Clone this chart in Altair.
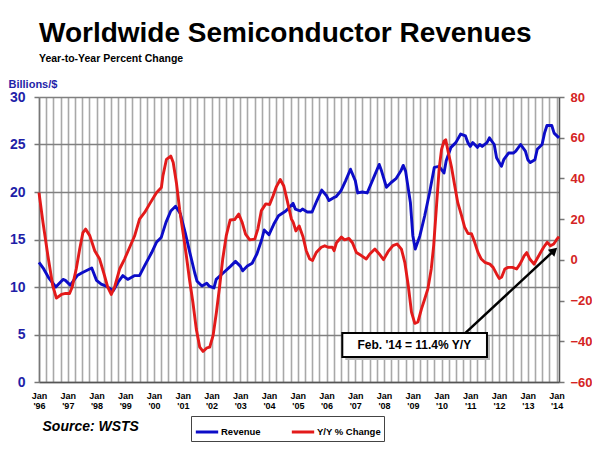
import altair as alt
import pandas as pd

# ---------------- data ----------------
rev_dates = [
    "1996-01", "1996-03", "1996-05", "1996-08", "1996-11", "1996-12", "1997-02", "1997-05",
    "1997-07", "1997-11", "1998-01", "1998-03", "1998-05", "1998-08", "1998-10", "1998-12",
    "1999-02", "1999-05", "1999-07", "1999-09", "1999-12", "2000-02", "2000-04", "2000-06",
    "2000-08", "2000-10", "2000-12", "2001-02", "2001-04", "2001-06", "2001-07", "2001-09",
    "2001-11", "2001-12", "2002-02", "2002-03", "2002-06", "2002-09", "2002-11", "2003-01",
    "2003-02", "2003-04", "2003-06", "2003-08", "2003-10", "2003-11", "2004-01", "2004-03",
    "2004-05", "2004-08", "2004-11", "2004-12", "2005-02", "2005-03", "2005-05", "2005-07",
    "2005-09", "2005-11", "2006-01", "2006-02", "2006-04", "2006-05", "2006-07", "2006-09",
    "2006-11", "2007-01", "2007-02", "2007-04", "2007-06", "2007-09", "2007-11", "2007-12",
    "2008-02", "2008-04", "2008-06", "2008-08", "2008-09", "2008-10", "2008-12", "2009-01",
    "2009-02", "2009-04", "2009-06", "2009-08", "2009-10", "2009-12", "2010-02", "2010-03",
    "2010-05", "2010-07", "2010-09", "2010-11", "2010-12", "2011-01", "2011-02", "2011-04",
    "2011-05", "2011-06", "2011-08", "2011-09", "2011-11", "2011-12", "2012-02", "2012-03",
    "2012-05", "2012-07", "2012-08", "2012-10", "2012-12", "2013-01", "2013-02", "2013-04",
    "2013-05", "2013-07", "2013-08", "2013-09", "2013-11", "2013-12", "2014-02",
]
rev_values = [
    12.6, 11.9, 11.0, 10.0, 10.8, 10.7, 10.2, 11.2,
    11.5, 12.0, 10.7, 10.3, 10.1, 9.6, 10.5, 11.2,
    10.8, 11.2, 11.2, 12.2, 13.6, 14.7, 15.2, 16.8,
    18.0, 18.5, 17.7, 15.7, 13.6, 11.5, 10.6, 10.1,
    10.4, 10.1, 9.9, 10.8, 11.5, 12.2, 12.7, 12.2,
    11.7, 12.2, 12.5, 13.5, 15.0, 16.0, 15.5, 16.6,
    17.5, 18.0, 18.8, 18.2, 18.0, 18.2, 17.9, 17.9,
    19.1, 20.2, 19.6, 19.1, 19.4, 19.5, 20.1, 21.2,
    22.4, 21.2, 19.9, 20.0, 19.9, 21.7, 22.9, 22.2,
    20.5, 21.0, 21.4, 22.2, 22.8, 22.2, 18.9, 15.4,
    14.0, 15.4, 17.5, 19.9, 22.6, 22.7, 22.0, 23.3,
    24.7, 25.2, 26.1, 25.9, 25.2, 24.8, 25.2, 24.7,
    25.0, 24.8, 25.2, 25.7, 25.0, 23.6, 22.7, 23.4,
    24.1, 24.1, 24.3, 25.0, 24.3, 23.4, 23.1, 23.4,
    24.5, 25.0, 26.2, 27.0, 27.0, 26.2, 25.7,
]

yoy_dates = [
    "1996-01-01", "1996-02-21", "1996-04-23", "1996-06-23", "1996-08-09", "1996-10-12",
    "1996-12-04", "1997-01-23", "1997-02-26", "1997-04-18", "1997-06-01", "1997-07-12",
    "1997-08-15", "1997-10-07", "1997-12-09", "1998-02-09", "1998-04-01", "1998-05-23",
    "1998-07-07", "1998-08-18", "1998-10-21", "1998-12-23", "1999-02-26", "1999-05-01",
    "1999-07-01", "1999-09-04", "1999-11-07", "2000-02-01", "2000-04-04", "2000-04-23",
    "2000-06-07", "2000-08-01", "2000-09-01", "2000-10-12", "2000-11-21", "2001-01-04",
    "2001-02-15", "2001-03-26", "2001-05-09", "2001-06-21", "2001-08-04", "2001-09-15",
    "2001-11-04", "2001-12-09", "2002-01-21", "2002-03-04", "2002-04-15", "2002-05-23",
    "2002-07-07", "2002-08-26", "2002-10-21", "2002-12-12", "2003-01-26", "2003-03-09",
    "2003-05-01", "2003-07-04", "2003-08-12", "2003-09-26", "2003-11-21", "2004-01-09",
    "2004-02-21", "2004-04-04", "2004-05-23", "2004-07-07", "2004-08-15", "2004-10-12",
    "2004-11-04", "2004-12-07", "2005-01-18", "2005-03-09", "2005-04-18", "2005-06-01",
    "2005-07-07", "2005-08-23", "2005-10-26", "2005-12-09", "2006-01-21", "2006-03-15",
    "2006-04-07", "2006-05-07", "2006-07-09", "2006-08-18", "2006-10-12", "2006-11-26",
    "2007-01-15", "2007-03-18", "2007-05-21", "2007-07-04", "2007-09-07", "2007-11-01",
    "2007-12-26", "2008-02-21", "2008-04-23", "2008-06-15", "2008-08-09", "2008-09-21",
    "2008-11-04", "2008-12-15", "2009-01-26", "2009-03-07", "2009-04-21", "2009-06-01",
    "2009-07-12", "2009-08-23", "2009-09-23", "2009-10-26", "2009-12-01", "2010-01-01",
    "2010-02-01", "2010-02-23", "2010-03-23", "2010-05-07", "2010-06-18", "2010-07-26",
    "2010-09-12", "2010-10-21", "2010-12-04", "2011-01-15", "2011-02-26", "2011-04-09",
    "2011-05-21", "2011-07-04", "2011-09-07", "2011-10-18", "2011-12-01", "2012-01-04",
    "2012-02-04", "2012-03-15", "2012-04-26", "2012-06-21", "2012-08-12", "2012-09-23",
    "2012-11-15", "2012-12-18", "2013-01-26", "2013-03-21", "2013-04-26", "2013-06-12",
    "2013-07-21", "2013-09-04", "2013-10-15", "2013-11-26", "2014-01-01", "2014-02-01",
]
yoy_values = [
    33.0, 18.3, 2.0, -12.6, -18.8, -17.0,
    -16.5, -16.5, -13.3, -4.5, 5.3, 13.4,
    15.1, 11.9, 4.5, 0.4, -6.2, -13.4,
    -17.0, -13.4, -4.5, 0.4, 6.2, 11.9,
    20.0, 23.3, 27.5, 33.0, 35.6, 41.2,
    49.4, 51.0, 47.8, 37.8, 24.9, 13.3,
    2.0, -9.4, -20.8, -33.9, -42.9, -45.0,
    -43.2, -42.9, -37.1, -25.7, -12.6, 0.4,
    11.9, 19.6, 19.8, 22.5, 18.3, 12.6,
    9.8, 10.2, 15.1, 24.2, 27.5, 27.2,
    31.4, 36.0, 39.5, 36.3, 29.8, 20.0,
    18.4, 14.2, 16.6, 11.2, 4.5, 0.4,
    -0.3, 3.6, 6.2, 6.9, 6.2, 6.2,
    4.5, 8.4, 11.2, 9.8, 10.5, 8.4,
    3.6, 2.1, 0.4, 2.9, 5.3, 2.9,
    0.1, 4.0, 7.0, 7.8, 5.3, -1.2,
    -12.6, -25.7, -31.2, -30.5, -24.1, -19.2,
    -14.1, -4.5, 7.0, 24.9, 44.5, 54.3,
    58.3, 59.0, 53.6, 45.6, 36.3, 28.1,
    21.7, 16.1, 12.9, 12.9, 8.6, 3.6,
    0.4, -1.2, -2.1, -3.7, -6.9, -9.1,
    -8.4, -4.5, -3.7, -3.7, -4.5, -2.1,
    2.0, 3.6, 0.4, -2.1, 0.4, 3.6,
    6.2, 8.6, 6.9, 7.8, 9.9, 11.4,
]

series_names = ["Revenue", "Y/Y % Change"]
left_ticks = [0, 5, 10, 15, 20, 25, 30]
right_ticks = [-60, -40, -20, 0, 20, 40, 60, 80]
tick_years = list(range(1996, 2015))          # "Jan" / "'YY" labels
tick_months = [1, 4, 7, 10]                   # quarterly grid lines

note_text = ["Feb. '14 = 11.4% Y/Y"]
note_center_date = ["2009-01-20"]
note_center_value = [-41.8]
box_dates = ["2006-07-20", "2011-08-01"]
box_values = [-35.9, -47.7]
arrow_dates = ["2010-11-01", "2013-12-01"]
arrow_values = [-35.9, 4.6]

# ---------------- styling ----------------
FONT = "Liberation Sans"
BLUE = "#0c0cc8"
RED = "#e31a1a"
BLUE_TXT = "#1f1fa8"
RED_TXT = "#d42424"

rev = pd.DataFrame({"date": rev_dates, "value": rev_values, "series": series_names[0]})
yoy = pd.DataFrame({"date": yoy_dates, "value": yoy_values, "series": series_names[1]})
box_df = pd.DataFrame({"x": [box_dates[0]], "x2": [box_dates[1]],
                       "y": [box_values[0]], "y2": [box_values[1]]})
note_df = pd.DataFrame({"date": note_center_date, "value": note_center_value, "label": note_text})
arrow_df = pd.DataFrame({"x": [arrow_dates[0]], "x2": [arrow_dates[1]],
                         "y": [arrow_values[0]], "y2": [arrow_values[1]]})
head_df = pd.DataFrame({"date": [arrow_dates[1]], "value": [arrow_values[1]]})

year_ticks = [alt.DateTime(year=y, month=1, date=1, utc=True) for y in tick_years]
quarter_ticks = [
    alt.DateTime(year=y, month=m, date=1, utc=True)
    for y in tick_years for m in tick_months
    if (y, m) <= (2014, 1)
]

xscale = alt.Scale(
    type="utc",
    domain=[alt.DateTime(year=1996, month=1, date=1, utc=True),
            alt.DateTime(year=2014, month=2, date=1, utc=True)],
    nice=False,
)
lscale = alt.Scale(domain=[0, 30], nice=False, zero=False)
rscale = alt.Scale(domain=[-60, 80], nice=False, zero=False)

legend = alt.Legend(
    orient="none", legendX=152, legendY=319, direction="horizontal", title=None,
    symbolType="stroke", symbolStrokeWidth=3, symbolSize=500,
    labelFont=FONT, labelFontSize=9.5, labelFontWeight="bold", labelColor="black",
    labelOffset=1, padding=3, strokeColor="#444444", fillColor="white", columnPadding=24,
)
color = alt.Color("series:N", scale=alt.Scale(domain=series_names, range=[BLUE, RED]), legend=legend)

# x axis, split in three: quarterly grid, "Jan" line, "'YY" line
x_grid_axis = alt.Axis(
    orient="bottom", title=None, values=quarter_ticks, labels=False, ticks=False,
    grid=True, gridColor="#a8a8a8", gridWidth=1.6,
    domainColor="#555555", domainWidth=1.5,
)
x_month_axis = alt.Axis(
    orient="bottom", values=year_ticks, format="%b",
    labelFont=FONT, labelFontSize=9, labelFontWeight="bold", labelColor="black",
    labelPadding=9, labelOverlap=False, labelFlush=False, ticks=False, grid=False, domain=False,
    title="Source: WSTS", titleFont=FONT, titleFontSize=14, titleFontStyle="italic",
    titleFontWeight="bold", titleColor="black", titleX=3, titleY=48, titleAlign="left",
    titleBaseline="alphabetic",
)
x_year_axis = alt.Axis(
    orient="bottom", values=year_ticks,
    labelExpr="\"'\" + utcFormat(datum.value, '%y')",
    labelFont=FONT, labelFontSize=9, labelFontWeight="bold", labelColor="black",
    labelPadding=19, labelOverlap=False, labelFlush=False, ticks=False, grid=False, domain=False,
    title=None,
)
left_axis = alt.Axis(
    title="Billions/$", titleAngle=0, titleX=-31, titleY=-10, titleAlign="left",
    titleBaseline="alphabetic", titleFont=FONT, titleFontSize=11, titleFontWeight="bold",
    titleColor=BLUE_TXT,
    values=left_ticks, labelFont=FONT, labelFontSize=14, labelFontWeight="bold",
    labelColor=BLUE_TXT, labelPadding=9, tickSize=5, tickColor="#777777", tickWidth=1.5,
    grid=True, gridColor="#808080", gridWidth=1.5,
    domainColor="#777777", domainWidth=1.5,
)
right_axis = alt.Axis(
    orient="right", title=None, values=right_ticks, labelFont=FONT, labelFontSize=13,
    labelFontWeight="bold", labelColor=RED_TXT, labelPadding=6, tickSize=5,
    tickColor="#777777", tickWidth=1.5, grid=False, domainColor="#555555", domainWidth=1.5,
)

blue = alt.Chart(rev).mark_line(strokeWidth=2.9, strokeJoin="round").encode(
    x=alt.X("date:T", scale=xscale, axis=x_grid_axis),
    y=alt.Y("value:Q", scale=lscale, axis=left_axis),
    color=color,
)
red = alt.Chart(yoy).mark_line(strokeWidth=2.9, strokeJoin="round").encode(
    x=alt.X("date:T", scale=xscale, axis=x_month_axis),
    y=alt.Y("value:Q", scale=rscale, axis=right_axis),
    color=color,
)
shadow = alt.Chart(box_df).mark_rect(fill="#b8b8b8", xOffset=3, x2Offset=3, yOffset=3, y2Offset=3).encode(
    x=alt.X("x:T", scale=xscale, axis=None), x2="x2:T",
    y=alt.Y("y:Q", scale=rscale, axis=None), y2="y2:Q",
)
box = alt.Chart(box_df).mark_rect(fill="white", stroke="black", strokeWidth=2).encode(
    x=alt.X("x:T", scale=xscale, axis=None), x2="x2:T",
    y=alt.Y("y:Q", scale=rscale, axis=None), y2="y2:Q",
)
note = alt.Chart(note_df).mark_text(font=FONT, fontSize=12, fontWeight="bold", color="black",
                                    align="center", baseline="middle").encode(
    x=alt.X("date:T", scale=xscale, axis=x_year_axis),
    y=alt.Y("value:Q", scale=rscale, axis=None),
    text="label:N",
)
arrow = alt.Chart(arrow_df).mark_rule(strokeWidth=2.5, color="black").encode(
    x=alt.X("x:T", scale=xscale, axis=None), x2="x2:T",
    y=alt.Y("y:Q", scale=rscale, axis=None), y2="y2:Q",
)
head = alt.Chart(head_df).mark_point(shape="triangle-up", angle=47, size=90, filled=True,
                                     color="black", opacity=1).encode(
    x=alt.X("date:T", scale=xscale, axis=None),
    y=alt.Y("value:Q", scale=rscale, axis=None),
)

chart = alt.layer(blue, red, arrow, head, shadow, box, note).resolve_scale(
    y="independent"
).resolve_axis(
    x="independent"
).properties(
    width=520, height=285,
    autosize=alt.AutoSizeParams(type="none"),
    padding={"left": 31, "top": 89, "right": 33, "bottom": 66},
    title=alt.Title(
        text="Worldwide Semiconductor Revenues", subtitle="Year-to-Year Percent Change",
        anchor="start", frame="group", font=FONT, fontSize=28, fontWeight="bold",
        color="black", subtitleFont=FONT, subtitleFontSize=10.5, subtitleFontWeight="bold",
        subtitleColor="black", subtitlePadding=6, offset=14,
    ),
).configure_view(stroke=None)

chart.save("out.html", embed_options={"renderer": "svg", "actions": False})
